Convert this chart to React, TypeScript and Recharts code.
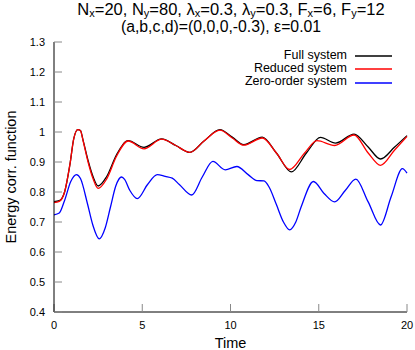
import React from 'react';
import { LineChart, Line, XAxis, YAxis, Legend } from 'recharts';

const xTicks = [0, 5, 10, 15, 20];
const yTicks = [0.4, 0.5, 0.6, 0.7, 0.8, 0.9, 1, 1.1, 1.2, 1.3];

const fullTime = [0, 0.3, 0.6, 0.9, 1.12, 1.35, 1.5, 1.65, 1.93, 2.22, 2.5, 2.97, 3.55, 4.2, 5.1, 6.1, 6.9, 7.7, 8.5, 9.4, 10.1, 10.75, 11.8, 12.6, 13.45, 14.3, 15.1, 15.95, 17.0, 17.8, 18.5, 19.3, 20];
const fullValues = [0.768, 0.771, 0.8, 0.891, 0.978, 1.008, 1.005, 0.972, 0.905, 0.85, 0.82, 0.85, 0.925, 0.971, 0.949, 0.977, 0.955, 0.932, 0.97, 1.008, 0.983, 0.958, 0.983, 0.93, 0.867, 0.93, 0.982, 0.963, 0.993, 0.95, 0.91, 0.95, 0.988];

const reducedTime = [0, 0.3, 0.6, 0.9, 1.12, 1.35, 1.5, 1.65, 1.93, 2.22, 2.5, 2.97, 3.55, 4.2, 5.1, 6.1, 6.9, 7.7, 8.5, 9.4, 10.1, 10.75, 11.8, 12.6, 13.35, 14.2, 14.9, 15.9, 17.0, 17.8, 18.5, 19.3, 20];
const reducedValues = [0.765, 0.769, 0.8, 0.891, 0.978, 1.008, 1.004, 0.97, 0.9, 0.843, 0.812, 0.842, 0.92, 0.97, 0.944, 0.976, 0.955, 0.932, 0.97, 1.006, 0.98, 0.956, 0.98, 0.93, 0.875, 0.93, 0.971, 0.955, 0.99, 0.93, 0.889, 0.94, 0.985];

const zeroTime = [0, 0.3, 0.6, 0.95, 1.27, 1.5, 1.9, 2.2, 2.56, 2.9, 3.2, 3.5, 3.83, 4.0, 4.3, 4.72, 5.3, 5.85, 6.3, 6.7, 7.1, 7.8, 8.4, 9.0, 9.7, 10.36, 11.0, 11.5, 11.9, 12.2, 12.6, 13.0, 13.35, 13.7, 14.0, 14.7, 15.3, 15.9, 16.5, 17.1, 17.8, 18.5, 19.1, 19.74, 20];
const zeroValues = [0.724, 0.73, 0.772, 0.835, 0.858, 0.845, 0.76, 0.69, 0.644, 0.68, 0.75, 0.82, 0.85, 0.842, 0.805, 0.778, 0.825, 0.858, 0.852, 0.846, 0.825, 0.79, 0.85, 0.902, 0.874, 0.885, 0.858, 0.838, 0.837, 0.815, 0.758, 0.7, 0.674, 0.7, 0.75, 0.835, 0.795, 0.767, 0.805, 0.843, 0.767, 0.69, 0.784, 0.878, 0.863];

const toPoints = (ts: number[], vs: number[]) => ts.map((t, i) => ({ t, v: vs[i] }));

const series = [
    { name: 'Full system', color: '#000000', data: toPoints(fullTime, fullValues) },
    { name: 'Reduced system', color: '#ff0000', data: toPoints(reducedTime, reducedValues) },
    { name: 'Zero-order system', color: '#0000ff', data: toPoints(zeroTime, zeroValues) },
];

const tickColor = '#888888';
const font = '"Liberation Sans", Arial, sans-serif';

// gnuplot-style key: right-aligned text, short line sample after it
const LegendBox = () => (
    <div style={{ fontFamily: font, fontSize: 12.5, lineHeight: '13.2px' }}>
        {series.map(s => (
            <div key={s.name} style={{ display: 'flex', alignItems: 'center', justifyContent: 'flex-end' }}>
                <span>{s.name}</span>
                <svg width={45} height={13} style={{ display: 'block' }}>
                    <line x1={8} x2={45} y1={7} y2={7} stroke={s.color} strokeWidth={1.3} />
                </svg>
            </div>
        ))}
    </div>
);

const YLabel = (props: any) => {
    const vb = props.viewBox || {};
    const cx = 10.5;
    const cy = vb.y + vb.height / 2;
    return (
        <text x={cx} y={cy} transform={`rotate(-90 ${cx} ${cy})`} textAnchor="middle" dominantBaseline="central" fontSize={14.5} fill="#000">
            Energy corr. function
        </text>
    );
};

const XLabel = (props: any) => {
    const vb = props.viewBox || {};
    return (
        <text x={vb.x + vb.width / 2} y={348} textAnchor="middle" fontSize={14.5} fill="#000">
            Time
        </text>
    );
};

const sub = { fontSize: 11, position: 'relative', top: 2 } as React.CSSProperties;
const titleLine = { position: 'absolute', left: 0, textAlign: 'center', lineHeight: '15px', whiteSpace: 'nowrap' } as React.CSSProperties;

export default function App() {
    return (
        <div style={{ position: 'absolute', left: 0, top: 0, width: 415, height: 350, background: '#fff', fontFamily: font }}>
            <div style={{ ...titleLine, top: 2, width: 462, fontSize: 16.5 }}>
                N<span style={sub}>x</span>=20, N<span style={sub}>y</span>=80, λ<span style={sub}>x</span>=0.3, λ<span style={sub}>y</span>=0.3, F<span style={sub}>x</span>=6, F<span style={sub}>y</span>=12
            </div>
            <div style={{ ...titleLine, top: 19, width: 442, fontSize: 15.8 }}>
                (a,b,c,d)=(0,0,0,-0.3), ε=0.01
            </div>
            <LineChart width={415} height={350} margin={{ top: 42, right: 8, bottom: 0, left: 0 }}>
                <XAxis
                    dataKey="t"
                    type="number"
                    domain={[0, 20]}
                    ticks={xTicks}
                    height={38}
                    stroke="#000"
                    tickSize={-8}
                    tickMargin={17}
                    tickLine={{ stroke: tickColor }}
                    tick={{ fontSize: 11, fill: '#000' }}
                    label={XLabel}
                />
                <XAxis
                    xAxisId="top"
                    orientation="top"
                    type="number"
                    domain={[0, 20]}
                    ticks={xTicks}
                    height={0}
                    stroke="#000"
                    tickSize={-8}
                    tickLine={{ stroke: tickColor }}
                    tickFormatter={() => ''}
                />
                <YAxis
                    type="number"
                    domain={[0.4, 1.3]}
                    ticks={yTicks}
                    width={54}
                    stroke="#000"
                    tickSize={-8}
                    tickMargin={17}
                    tickLine={{ stroke: tickColor }}
                    tick={{ fontSize: 11, fill: '#000' }}
                    label={YLabel}
                />
                <YAxis
                    yAxisId="right"
                    orientation="right"
                    type="number"
                    domain={[0.4, 1.3]}
                    ticks={yTicks}
                    width={0}
                    stroke="#000"
                    tickSize={-8}
                    tickLine={{ stroke: tickColor }}
                    tickFormatter={() => ''}
                />
                <Legend
                    layout="horizontal"
                    verticalAlign="middle"
                    align="center"
                    content={LegendBox}
                    wrapperStyle={{ position: 'absolute', top: 49, left: 0, width: 392, height: 42 }}
                />
                {series.map(s => (
                    <Line
                        key={s.name}
                        data={s.data}
                        dataKey="v"
                        name={s.name}
                        type="monotone"
                        stroke={s.color}
                        strokeWidth={1.3}
                        dot={false}
                        isAnimationActive={false}
                    />
                ))}
            </LineChart>
        </div>
    );
}
